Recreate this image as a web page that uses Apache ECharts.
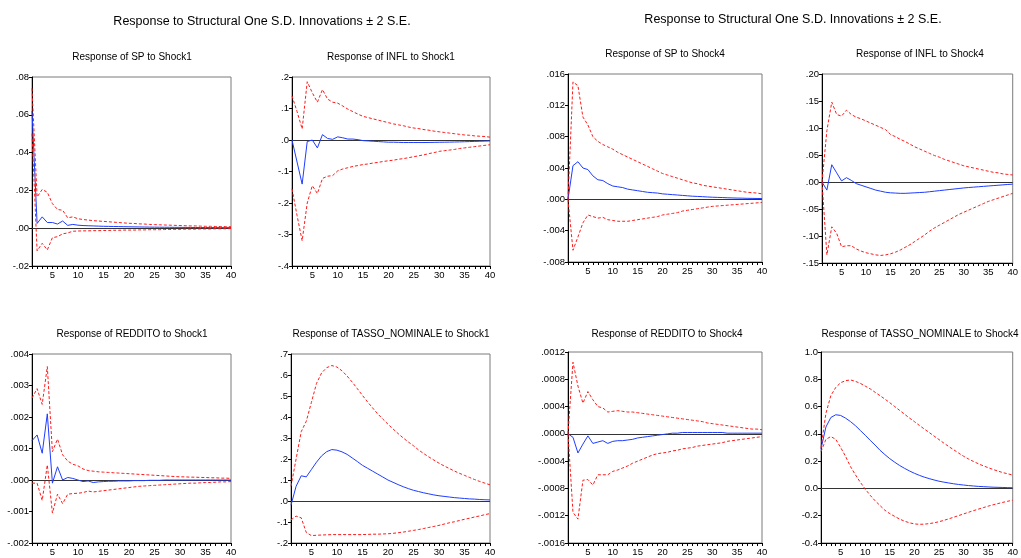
<!DOCTYPE html>
<html>
<head>
<meta charset="utf-8">
<script src="https://cdn.jsdelivr.net/npm/echarts@6/dist/echarts.min.js"></script>
<style>html,body{margin:0;padding:0;background:#fff}#c{width:1021px;height:558px}</style>
</head>
<body>
<div id="c"></div>
<script>
var periods = ['1','2','3','4','5','6','7','8','9','10','11','12','13','14','15','16','17','18','19','20','21','22','23','24','25','26','27','28','29','30','31','32','33','34','35','36','37','38','39','40'];

var mainTitle = 'Response to Structural One S.D. Innovations \u00b1 2 S.E.';
var panelTitles = ['Response of SP to Shock1','Response of INFL to Shock1','Response of SP to Shock4','Response of INFL to Shock4',
  'Response of REDDITO to Shock1','Response of TASSO_NOMINALE to Shock1','Response of REDDITO to Shock4','Response of TASSO_NOMINALE to Shock4'];

// Panel 1: SP to Shock1
var sp1Resp = [0.062,0.0025,0.006,0.003,0.003,0.0022,0.0038,0.0015,0.002,0.0016,0.0014,0.0013,0.0012,0.0011,0.001,0.00095,0.0009,0.00085,0.0008,0.00075,0.0007,0.00066,0.00062,0.00058,0.00055,0.00052,0.0005,0.00047,0.00045,0.00043,0.00041,0.00039,0.00037,0.00035,0.00034,0.00033,0.00032,0.00031,0.0003,0.0003];
var sp1Up = [0.074,0.0165,0.0205,0.019,0.013,0.0099,0.0095,0.0055,0.006,0.005,0.0046,0.0043,0.004,0.0038,0.0036,0.0034,0.0032,0.003,0.0028,0.0026,0.0025,0.0023,0.0022,0.002,0.0019,0.0018,0.0017,0.0016,0.0015,0.0014,0.0013,0.0012,0.0012,0.0011,0.001,0.001,0.0009,0.0009,0.0008,0.0008];
var sp1Lo = [0.05,-0.012,-0.008,-0.0115,-0.005,-0.0045,-0.003,-0.0025,-0.0016,-0.0015,-0.0014,-0.0014,-0.0013,-0.0013,-0.0012,-0.0012,-0.0011,-0.0011,-0.001,-0.001,-0.001,-0.0009,-0.0009,-0.0008,-0.0008,-0.0008,-0.0007,-0.0007,-0.0006,-0.0006,-0.0005,-0.0005,-0.0005,-0.0004,-0.0004,-0.0004,-0.0003,-0.0003,-0.0003,-0.0002];

// Panel 2: INFL to Shock1
var infl1Resp = [0,-0.07,-0.14,-0.005,0,-0.025,0.017,0.005,0.002,0.01,0.007,0.003,0.003,0.001,-0.002,-0.003,-0.004,-0.005,-0.006,-0.007,-0.007,-0.0075,-0.008,-0.008,-0.008,-0.008,-0.008,-0.0078,-0.0075,-0.0072,-0.007,-0.0067,-0.0063,-0.006,-0.0055,-0.005,-0.0045,-0.004,-0.0035,-0.003];
var infl1Up = [0.14,0.09,0.035,0.185,0.15,0.12,0.16,0.13,0.12,0.117,0.108,0.098,0.09,0.082,0.075,0.071,0.067,0.063,0.059,0.055,0.051,0.048,0.045,0.041,0.038,0.036,0.033,0.031,0.028,0.026,0.024,0.022,0.02,0.018,0.016,0.015,0.013,0.012,0.011,0.009];
var infl1Lo = [-0.155,-0.24,-0.32,-0.2,-0.145,-0.17,-0.122,-0.115,-0.113,-0.098,-0.092,-0.088,-0.084,-0.081,-0.078,-0.076,-0.073,-0.071,-0.068,-0.066,-0.064,-0.061,-0.059,-0.056,-0.053,-0.05,-0.047,-0.043,-0.04,-0.036,-0.034,-0.032,-0.03,-0.027,-0.025,-0.023,-0.021,-0.019,-0.017,-0.015];

// Panel 3: SP to Shock4
var sp4Resp = [0,0.0043,0.0048,0.004,0.0038,0.003,0.0025,0.0024,0.002,0.0017,0.0016,0.0015,0.0013,0.0012,0.0011,0.001,0.0009,0.00085,0.0008,0.0007,0.00065,0.0006,0.00055,0.0005,0.00045,0.0004,0.00037,0.00034,0.0003,0.00027,0.00025,0.00023,0.0002,0.00018,0.00016,0.00015,0.00013,0.00012,0.00011,0.0001];
var sp4Up = [0,0.015,0.0145,0.0105,0.0095,0.008,0.0074,0.007,0.0067,0.0064,0.006,0.0057,0.0054,0.0051,0.0048,0.0045,0.0042,0.0039,0.0036,0.0033,0.0031,0.0029,0.0027,0.0025,0.0023,0.0021,0.002,0.0018,0.0017,0.0016,0.0015,0.0014,0.0013,0.0012,0.0011,0.001,0.0009,0.00085,0.0008,0.0007];
var sp4Lo = [0,-0.0065,-0.0048,-0.003,-0.002,-0.0022,-0.0024,-0.0023,-0.0026,-0.0027,-0.0028,-0.0028,-0.0028,-0.0027,-0.0026,-0.0025,-0.0024,-0.0023,-0.0022,-0.002,-0.0019,-0.0018,-0.0017,-0.0015,-0.0014,-0.0013,-0.0012,-0.0011,-0.001,-0.0009,-0.00085,-0.0008,-0.00075,-0.0007,-0.00065,-0.0006,-0.00055,-0.0005,-0.00045,-0.0004];

// Panel 4: INFL to Shock4
var infl4Resp = [0,-0.015,0.032,0.017,0.002,0.008,0.003,-0.003,-0.006,-0.009,-0.012,-0.015,-0.017,-0.019,-0.02,-0.0205,-0.021,-0.021,-0.0205,-0.02,-0.0195,-0.019,-0.018,-0.017,-0.016,-0.015,-0.014,-0.013,-0.012,-0.011,-0.0102,-0.0095,-0.0088,-0.0081,-0.0074,-0.0067,-0.006,-0.0053,-0.0046,-0.004];
var infl4Up = [0,0.095,0.148,0.125,0.122,0.133,0.125,0.12,0.117,0.113,0.109,0.105,0.101,0.097,0.088,0.084,0.079,0.075,0.07,0.065,0.061,0.057,0.053,0.049,0.046,0.042,0.039,0.036,0.033,0.03,0.028,0.026,0.024,0.022,0.02,0.018,0.017,0.015,0.014,0.013];
var infl4Lo = [0,-0.135,-0.083,-0.095,-0.12,-0.118,-0.118,-0.124,-0.128,-0.131,-0.133,-0.135,-0.136,-0.135,-0.133,-0.13,-0.126,-0.121,-0.116,-0.11,-0.104,-0.098,-0.091,-0.085,-0.08,-0.075,-0.07,-0.065,-0.06,-0.056,-0.052,-0.048,-0.044,-0.04,-0.036,-0.033,-0.03,-0.027,-0.024,-0.021];

// Panel 5: REDDITO to Shock1
var red1Resp = [0.00125,0.00143,0.00085,0.0021,-0.0001,0.00042,0,0.00008,0.00005,0,-0.00005,-0.00003,-0.00008,-0.00006,-0.00005,-0.00004,-0.00004,-0.00003,-0.00003,-0.00003,-0.00002,-0.00002,-0.00002,-0.00001,-0.00001,-0.00001,0,0,0,0,0,0,0,0,0,0,0,0,0,0];
var red1Up = [0.0026,0.0029,0.0024,0.0036,0.0009,0.0013,0.0008,0.0006,0.0005,0.00045,0.00035,0.0003,0.00028,0.00026,0.00025,0.00024,0.00023,0.00022,0.00021,0.0002,0.00019,0.00018,0.00017,0.00016,0.00015,0.00014,0.00013,0.00012,0.00011,0.0001,0.0001,0.00009,0.00009,0.00008,0.00008,0.00007,0.00007,0.00006,0.00006,0.00005];
var red1Lo = [-0.0001,-0.0001,-0.00065,0.00048,-0.00105,-0.00045,-0.00075,-0.00045,-0.00043,-0.00042,-0.0004,-0.00035,-0.00038,-0.00036,-0.00034,-0.00032,-0.0003,-0.00028,-0.00026,-0.00024,-0.00022,-0.0002,-0.00019,-0.00018,-0.00017,-0.00016,-0.00015,-0.00014,-0.00013,-0.00012,-0.00011,-0.0001,-0.0001,-0.00009,-0.00008,-0.00008,-0.00007,-0.00006,-0.00006,-0.00005];

// Panel 6: TASSO_NOMINALE to Shock1
var tas1Resp = [-0.02,0.07,0.12,0.115,0.15,0.185,0.215,0.235,0.245,0.242,0.234,0.222,0.205,0.188,0.17,0.156,0.142,0.128,0.114,0.1,0.089,0.078,0.068,0.059,0.051,0.045,0.039,0.034,0.029,0.025,0.022,0.019,0.016,0.014,0.012,0.01,0.009,0.007,0.006,0.005];
var tas1Up = [0.07,0.2,0.33,0.38,0.47,0.56,0.61,0.635,0.645,0.638,0.62,0.595,0.566,0.535,0.503,0.472,0.443,0.415,0.39,0.366,0.343,0.321,0.3,0.281,0.263,0.243,0.226,0.21,0.195,0.18,0.167,0.155,0.143,0.132,0.122,0.112,0.102,0.093,0.085,0.077];
var tas1Lo = [-0.09,-0.072,-0.08,-0.15,-0.165,-0.163,-0.162,-0.161,-0.16,-0.16,-0.16,-0.16,-0.16,-0.16,-0.16,-0.159,-0.158,-0.158,-0.157,-0.156,-0.154,-0.151,-0.148,-0.144,-0.14,-0.136,-0.131,-0.126,-0.121,-0.116,-0.11,-0.104,-0.099,-0.093,-0.087,-0.082,-0.076,-0.071,-0.065,-0.06];

// Panel 7: REDDITO to Shock4
var red4Resp = [0,-0.00005,-0.00028,-0.00015,-0.00003,-0.00014,-0.00012,-0.0001,-0.00014,-0.00011,-0.0001,-0.0001,-0.00009,-0.00008,-0.00006,-0.00005,-0.00004,-0.00003,-0.00002,-0.00001,0,0.00001,0.00001,0.00002,0.00002,0.00002,0.00002,0.00002,0.00002,0.00002,0.00002,0.00002,0.00001,0.00001,0.00001,0.00001,0.00001,0.00001,0.00001,0.00001];
var red4Up = [0,0.00105,0.0007,0.00045,0.00062,0.0005,0.0004,0.00038,0.00032,0.00033,0.00034,0.00033,0.00032,0.00032,0.00031,0.0003,0.00029,0.00028,0.00027,0.00026,0.00025,0.00024,0.00023,0.00022,0.00021,0.0002,0.00019,0.00018,0.00016,0.00015,0.00014,0.00013,0.00012,0.00011,0.0001,0.00009,0.00008,0.00007,0.00007,0.00006];
var red4Lo = [0,-0.00115,-0.00125,-0.00068,-0.00067,-0.00075,-0.0006,-0.0006,-0.0006,-0.00055,-0.00053,-0.0005,-0.00047,-0.00043,-0.0004,-0.00037,-0.00034,-0.00031,-0.00029,-0.00028,-0.00027,-0.00025,-0.00024,-0.00022,-0.00021,-0.0002,-0.00018,-0.00017,-0.00016,-0.00015,-0.00014,-0.00013,-0.00011,-0.0001,-0.00009,-0.00008,-0.00007,-0.00006,-0.00005,-0.00004];

// Panel 8: TASSO_NOMINALE to Shock4
var tas4Resp = [0.29,0.45,0.52,0.54,0.535,0.515,0.49,0.46,0.425,0.39,0.353,0.318,0.28,0.248,0.218,0.192,0.168,0.147,0.128,0.111,0.096,0.083,0.072,0.062,0.053,0.046,0.04,0.034,0.029,0.025,0.021,0.018,0.015,0.013,0.011,0.009,0.008,0.007,0.006,0.005];
var tas4Up = [0.3,0.55,0.68,0.74,0.775,0.79,0.795,0.785,0.77,0.75,0.73,0.705,0.68,0.655,0.628,0.6,0.572,0.544,0.516,0.49,0.462,0.436,0.41,0.384,0.358,0.332,0.307,0.283,0.259,0.236,0.216,0.198,0.181,0.166,0.152,0.139,0.127,0.116,0.107,0.098];
var tas4Lo = [0.27,0.36,0.38,0.36,0.3,0.235,0.16,0.1,0.045,-0.005,-0.05,-0.09,-0.125,-0.16,-0.185,-0.205,-0.225,-0.24,-0.252,-0.26,-0.263,-0.262,-0.258,-0.252,-0.244,-0.234,-0.223,-0.211,-0.199,-0.187,-0.175,-0.163,-0.152,-0.141,-0.13,-0.12,-0.111,-0.102,-0.094,-0.086];

// y axis settings
var yMin = [-0.02, -0.4, -0.008, -0.15, -0.002, -0.2, -0.0016, -0.4];
var yMax = [0.08, 0.2, 0.016, 0.20, 0.004, 0.7, 0.0012, 1.0];
var yStep = [0.02, 0.1, 0.004, 0.05, 0.001, 0.1, 0.0004, 0.2];
var yDec = [2, 1, 3, 2, 3, 1, 4, 1];
var yStrip = [true, true, true, true, true, true, true, false];

var resp = [sp1Resp, infl1Resp, sp4Resp, infl4Resp, red1Resp, tas1Resp, red4Resp, tas4Resp];
var upper = [sp1Up, infl1Up, sp4Up, infl4Up, red1Up, tas1Up, red4Up, tas4Up];
var lower = [sp1Lo, infl1Lo, sp4Lo, infl4Lo, red1Lo, tas1Lo, red4Lo, tas4Lo];

// layout
var grids = [
  {left:32, top:77, width:199, height:189},
  {left:292, top:77, width:198, height:189},
  {left:568, top:74, width:194, height:188},
  {left:822, top:74, width:195, height:189},
  {left:32, top:354, width:199, height:189},
  {left:291, top:354, width:199, height:189},
  {left:568, top:352, width:194, height:191},
  {left:821, top:352, width:196, height:191}
];
var subPos = [[132,57],[391,57],[665,54],[920,54],[132,334],[391,334],[667,334],[920,334]];
var mainPos = [[262,22],[793,20]];

var FONT = '"Liberation Sans", Arial, sans-serif';

function makeFmt(d, strip) {
  return function (v) {
    var r = Math.round(v * Math.pow(10, d)) / Math.pow(10, d);
    if (r === 0) r = 0;
    var s = r.toFixed(d);
    if (strip) s = s.replace(/^(-?)0\./, '$1.');
    return s;
  };
}

var option = {
  animation: false,
  backgroundColor: '#fff',
  grid: [], xAxis: [], yAxis: [], series: [],
  graphic: []
};

mainPos.forEach(function (p) {
  option.graphic.push({type:'text', x:p[0], y:p[1], style:{text:mainTitle, font:'12.5px ' + FONT, fill:'#000', textAlign:'center', textVerticalAlign:'middle'}});
});
subPos.forEach(function (p, i) {
  option.graphic.push({type:'text', x:p[0], y:p[1], style:{text:panelTitles[i], font:'10px ' + FONT, fill:'#000', textAlign:'center', textVerticalAlign:'middle'}});
});

for (var i = 0; i < 8; i++) {
  var g = grids[i];
  option.grid.push({left:g.left, top:g.top, width:g.width, height:g.height, show:true, borderColor:'#7a7a7a', borderWidth:1, containLabel:false});
  option.xAxis.push({
    type:'category', gridIndex:i, data:periods, boundaryGap:false,
    axisLine:{show:true, onZero:false, lineStyle:{color:'#000', width:1}},
    axisTick:{show:true, interval:0, length:3, lineStyle:{color:'#000'}},
    axisLabel:{interval:function (idx) { return (idx + 1) % 5 === 0; }, fontSize:9.5, fontFamily:FONT, color:'#000', margin:4},
    splitLine:{show:false}
  });
  option.yAxis.push({
    type:'value', gridIndex:i, min:yMin[i], max:yMax[i], interval:yStep[i],
    axisLine:{show:true, lineStyle:{color:'#000', width:1}},
    axisTick:{show:true, length:3, lineStyle:{color:'#000'}},
    axisLabel:{formatter:makeFmt(yDec[i], yStrip[i]), fontSize:9.5, fontFamily:FONT, color:'#000', margin:3},
    splitLine:{show:false}
  });
  option.series.push({
    type:'line', xAxisIndex:i, yAxisIndex:i, data:resp[i], symbol:'none', silent:true,
    lineStyle:{color:'#1f3dff', width:1}, z:3,
    markLine:{silent:true, symbol:'none', label:{show:false}, lineStyle:{color:'#333', width:1, type:'solid'}, data:[{yAxis:0}], z:2}
  });
  option.series.push({
    type:'line', xAxisIndex:i, yAxisIndex:i, data:upper[i], symbol:'none', silent:true,
    lineStyle:{color:'#ff1a1a', width:1, type:[3,2]}, z:4
  });
  option.series.push({
    type:'line', xAxisIndex:i, yAxisIndex:i, data:lower[i], symbol:'none', silent:true,
    lineStyle:{color:'#ff1a1a', width:1, type:[3,2]}, z:4
  });
}

var chart = echarts.init(document.getElementById('c'));
chart.setOption(option);
</script>
</body>
</html>
